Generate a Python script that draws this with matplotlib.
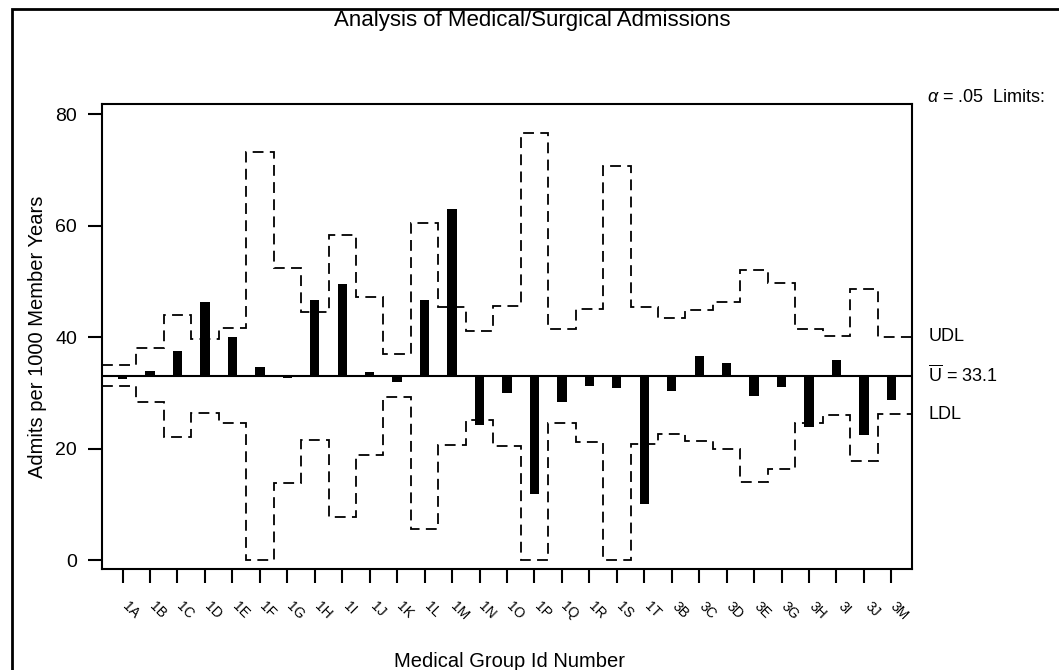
import matplotlib
matplotlib.use("Agg")
import matplotlib.pyplot as plt
from matplotlib.patches import Rectangle
from matplotlib.transforms import ScaledTranslation
import numpy as np

# --------------------------------------------------------------
# Data: admission rates per medical group with decision limits
# --------------------------------------------------------------
groups = ["1A", "1B", "1C", "1D", "1E", "1F", "1G", "1H", "1I", "1J",
          "1K", "1L", "1M", "1N", "1O", "1P", "1Q", "1R", "1S", "1T",
          "3B", "3C", "3D", "3E", "3G", "3H", "3I", "3J", "3M"]

rates = [32.5, 33.9, 37.5, 46.3, 40.0, 34.6, 32.6, 46.6, 49.6, 33.8,
         32.0, 46.6, 63.0, 24.2, 29.9, 11.8, 28.3, 31.3, 30.8, 10.1,
         30.4, 36.6, 35.3, 29.4, 31.1, 23.9, 35.9, 22.4, 28.7]

udl = [35.0, 38.0, 43.9, 39.6, 41.6, 73.1, 52.4, 44.5, 58.3, 47.2,
       37.0, 60.4, 45.4, 41.1, 45.6, 76.6, 41.5, 45.0, 70.7, 45.4,
       43.5, 44.9, 46.2, 52.0, 49.7, 41.5, 40.2, 48.6, 40.1]

ldl = [31.3, 28.4, 22.1, 26.4, 24.5, 0.0, 13.9, 21.6, 7.8, 18.8,
       29.2, 5.6, 20.7, 25.2, 20.5, 0.0, 24.6, 21.1, 0.0, 20.9,
       22.7, 21.3, 20.0, 14.0, 16.4, 24.6, 26.0, 17.7, 26.2]

center = 33.1
alpha_level = ".05"

plt.rcParams["font.family"] = ["Liberation Sans", "DejaVu Sans"]
plt.rcParams["mathtext.fontset"] = "custom"
plt.rcParams["mathtext.rm"] = "Liberation Sans"
plt.rcParams["mathtext.it"] = "Liberation Sans:italic"

fig = plt.figure(figsize=(10.59, 6.70), dpi=100)
ax = fig.add_axes([0.0963, 0.1507, 0.7649, 0.6941])

n = len(groups)
x = np.arange(n)
x_lo, x_hi = -0.75, n - 1 + 0.75

# ---------- bars measured from the central line ----------
heights = np.array(rates) - center
ax.bar(x, heights, bottom=center, width=0.34, color="black", zorder=3)

# ---------- step outlines for the limits ----------
edges = np.concatenate(([x_lo], np.arange(n - 1) + 0.5, [x_hi]))
for lim in (udl, ldl):
    ax.stairs(lim, edges, color="black", linestyle=(0, (6, 3.5)),
              linewidth=1.3, baseline=None, zorder=2)

ax.axhline(center, color="black", linewidth=1.5, zorder=4)

ax.set_xlim(x_lo, x_hi)
ax.set_ylim(-1.6, 81.8)
ax.set_yticks([0, 20, 40, 60, 80])
ax.set_xticks(x)
ax.set_xticklabels(groups, rotation=-45, ha="center", va="top", fontsize=10)

for s in ax.spines.values():
    s.set_linewidth(1.5)
ax.tick_params(axis="x", direction="out", length=10, width=1.5, pad=12)
ax.tick_params(axis="y", direction="out", length=10, width=1.5, pad=8,
               labelsize=14)
shift = ScaledTranslation(8 / 100, 0, fig.dpi_scale_trans)
for lbl in ax.get_xticklabels():
    lbl.set_transform(lbl.get_transform() + shift)

ax.set_ylabel("Admits per 1000 Member Years", fontsize=14.5, labelpad=6)
fig.text(0.481, 0.012, "Medical Group Id Number", ha="center",
         va="center", fontsize=14.5)
fig.text(0.503, 0.970, "Analysis of Medical/Surgical Admissions", ha="center",
         va="center", fontsize=16)

# ---------- limit annotations on the right ----------
ax.annotate(r"$\alpha$ = " + alpha_level + "  Limits:", xy=(1.018, 81.8),
            xycoords=("axes fraction", "data"), xytext=(0, 5),
            textcoords="offset points", ha="left", va="center", fontsize=13)
ax.annotate("UDL", xy=(1.02, udl[-1]), xycoords=("axes fraction", "data"),
            ha="left", va="center", fontsize=13, annotation_clip=False)
ax.annotate(r"$\overline{\mathrm{U}}$ = " + f"{center}", xy=(1.02, center),
            xycoords=("axes fraction", "data"), ha="left", va="center",
            fontsize=13, annotation_clip=False)
ax.annotate("LDL", xy=(1.02, ldl[-1]), xycoords=("axes fraction", "data"),
            ha="left", va="center", fontsize=13, annotation_clip=False)

# outer frame around the whole graph
fig.patches.append(Rectangle((12 / 1059, -0.1), 1.2, 1.1 - 8.5 / 670,
                             transform=fig.transFigure, fill=False,
                             edgecolor="black", linewidth=2, zorder=0))

fig.savefig("out.png", dpi=100)
